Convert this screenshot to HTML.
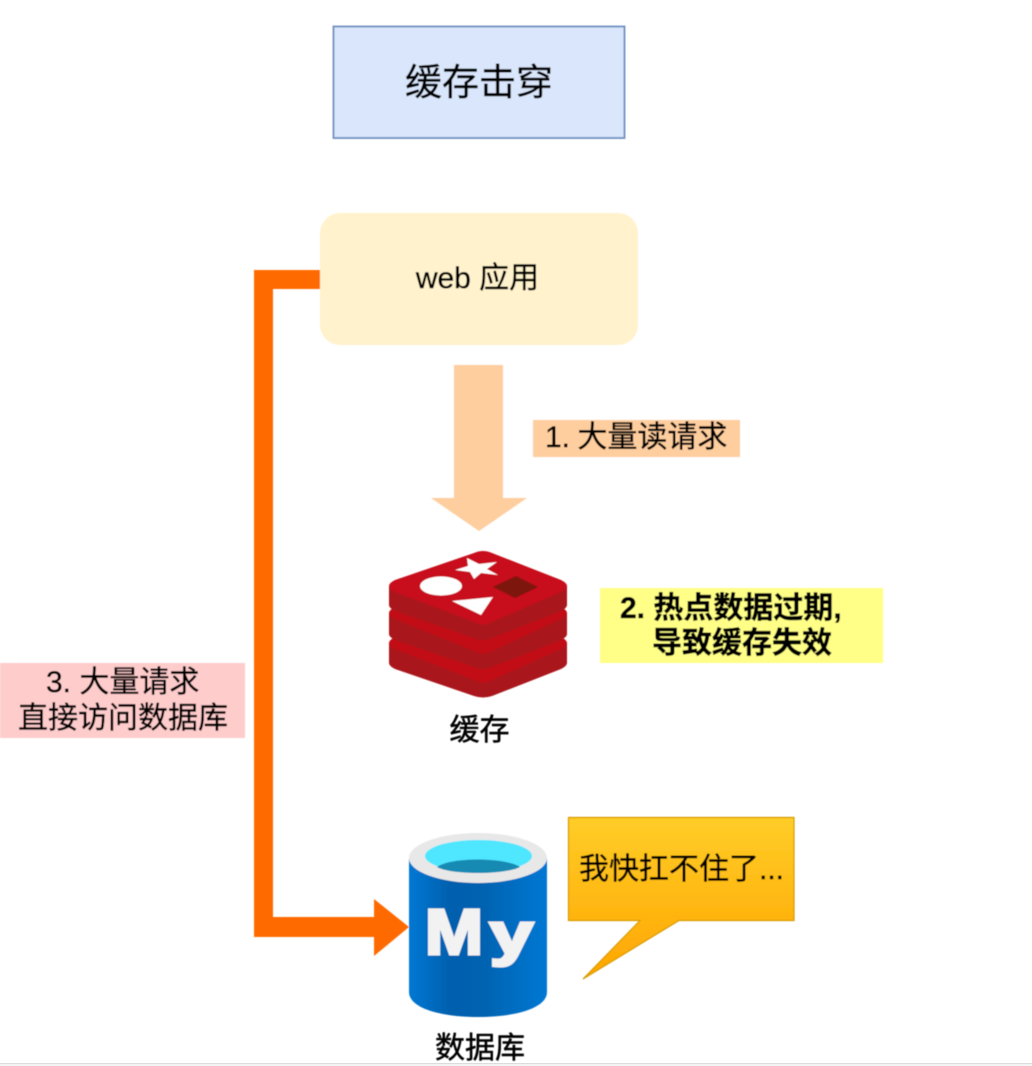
<!DOCTYPE html>
<html>
<head>
<meta charset="utf-8">
<style>
html,body{margin:0;padding:0;background:#fff;width:1032px;height:1066px;overflow:hidden}
svg{display:block}
text{font-family:"Liberation Sans","Noto Sans CJK SC",sans-serif;fill:#000;stroke:#000;stroke-width:.45px}
</style>
</head>
<body>
<svg width="1032" height="1066" viewBox="0 0 1032 1066" xmlns="http://www.w3.org/2000/svg">
<defs>
<linearGradient id="call" x1="0" y1="0" x2="0" y2="1"><stop offset="0" stop-color="#ffcd28"/><stop offset="1" stop-color="#ffa500"/></linearGradient>
<linearGradient id="cyl" x1="0" y1="0" x2="1" y2="0"><stop offset="0" stop-color="#0078d4"/><stop offset=".3" stop-color="#0060ae"/><stop offset=".55" stop-color="#0063b1"/><stop offset="1" stop-color="#0078d4"/></linearGradient>
<filter id="soft" x="-5%" y="-5%" width="110%" height="110%"><feGaussianBlur stdDeviation="0.5"/></filter>
</defs>
<rect width="1032" height="1066" fill="#fff"/>
<g filter="url(#soft)">
<rect x="333.500" y="26.500" width="291" height="111.500" fill="#d9e6fb" stroke="#6c8ebf" stroke-width="1.800"/>
<text x="479" y="95" font-size="37" text-anchor="middle">缓存击穿</text>

<rect x="320" y="213" width="318" height="132" rx="20" fill="#fff2cc"/>
<text x="477.500" y="288" font-size="30" text-anchor="middle">web 应用</text>

<polygon points="454,365 503,365 503,498 527,498 479,531 431,498 454,498" fill="#ffce9f"/>
<rect x="533" y="420" width="207" height="37" fill="#ffce9f"/>
<text x="545" y="447" font-size="30">1. <tspan dx="-1">大量读请求</tspan></text>

<!-- redis -->
<path d="M389 643 L389 663 Q389 666 395 669 L474 696 Q483 699 492 696 L561 669 Q567 666 567 663 L567 643 Z" fill="#a9161b"/>
<path d="M389 643 Q389 640 395 637 L474 610 Q483 607 492 610 L561 637 Q567 640 567 643 Q567 646 561 649 L492 680 Q483 685 474 680 L395 649 Q389 646 389 643 Z" fill="#c20f17"/>
<path d="M389 613 L389 634 Q389 637 395 640 L474 667 Q483 671 492 667 L561 640 Q567 637 567 634 L567 613 Z" fill="#a9161b"/>
<path d="M389 613 Q389 610 395 607 L474 580 Q483 577 492 580 L561 607 Q567 610 567 613 Q567 616 561 619 L492 651 Q483 656 474 651 L395 619 Q389 616 389 613 Z" fill="#c20f17"/>
<path d="M389 586 L389 605 Q389 608 395 611 L474 638 Q483 642 492 638 L561 611 Q567 608 567 605 L567 586 Z" fill="#a9161b"/>
<path d="M389 586 Q389 583 395 580 L474 553 Q483 549 492 553 L561 580 Q567 583 567 586 Q567 589 561 592 L492 622 Q483 627 474 622 L395 592 Q389 589 389 586 Z" fill="#c8111a"/>
<ellipse cx="441" cy="586" rx="21" ry="9.500" fill="#fff"/>
<polygon points="467,558 479,564 497,562 487,569 498,575 481,573 474,579 470,572 455,570 468,566" fill="#fff"/>
<polygon points="493,587 516,576 538,587 515,598" fill="#7d1211"/>
<polygon points="452,601 493,597 481,615" fill="#fff"/>
<text x="479.500" y="740" font-size="30" text-anchor="middle">缓存</text>

<!-- yellow note -->
<rect x="600" y="588" width="283" height="75" fill="#ffff88"/>
<text x="620" y="618" font-size="30" font-weight="bold">2. 热点数据过期,</text>
<text x="652" y="653" font-size="30" font-weight="bold">导致缓存失效</text>

<!-- orange path -->
<polygon points="320,270 254,270 254,937 374,937 374,956 409,927 374,899 374,917 273,917 273,289 320,289" fill="#ff6a00"/>

<!-- pink note -->
<rect x="0" y="663" width="245" height="75" fill="#ffcccc"/>
<text x="46" y="692" font-size="30">3. 大量请求</text>
<text x="18" y="728" font-size="30">直接访问数据库</text>

<!-- mysql cylinder -->
<path d="M409 858 L409 992 C409 1008 440 1017 478 1017 C516 1017 547 1008 547 992 L547 858 Z" fill="url(#cyl)"/>
<ellipse cx="478" cy="858" rx="69" ry="25" fill="#e8e8e8"/>
<ellipse cx="478.500" cy="856" rx="53.500" ry="16" fill="#50e6ff"/>
<path d="M437 867 C450 857 505 857 520 867 C505 875 450 875 437 867 Z" fill="#198ab3"/>
<text x="425" y="954" font-size="64" font-weight="bold" textLength="58" lengthAdjust="spacingAndGlyphs" style="fill:#f2f2f2;stroke:#f2f2f2;stroke-width:3px">M</text>
<text x="490" y="954" font-size="58" font-weight="bold" textLength="43" lengthAdjust="spacingAndGlyphs" style="fill:#f2f2f2;stroke:#f2f2f2;stroke-width:3px">y</text>
<text x="480" y="1058" font-size="30" text-anchor="middle">数据库</text>

<!-- callout -->
<polygon points="568.500,817.500 794,817.500 794,920.500 679,920.500 583,979 640,920.500 568.500,920.500" fill="url(#call)" stroke="#d79b00" stroke-width="1.200"/>
<text x="579" y="879" font-size="30">我快扛不住了...</text>
</g>
<rect x="0" y="1063" width="1032" height="3" fill="#f3f3f3"/>
<rect x="0" y="1063" width="1032" height="1" fill="#dcdcdc"/>
</svg>
</body>
</html>
